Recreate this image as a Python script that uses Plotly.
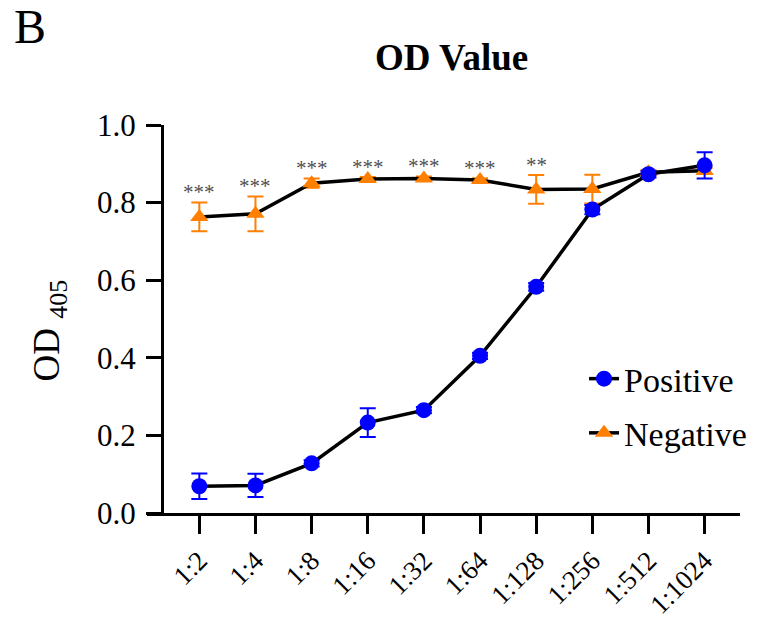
import plotly.graph_objects as go

dilutions = ["1:2", "1:4", "1:8", "1:16", "1:32", "1:64", "1:128", "1:256", "1:512", "1:1024"]
positive_mean = [0.069, 0.071, 0.128, 0.233, 0.265, 0.405, 0.583, 0.782, 0.873, 0.896]
positive_err = [0.033, 0.030, 0.008, 0.037, 0.008, 0.008, 0.010, 0.012, 0.008, 0.034]
negative_mean = [0.763, 0.771, 0.850, 0.861, 0.862, 0.858, 0.834, 0.835, 0.878, 0.882]
negative_err = [0.037, 0.045, 0.012, 0.005, 0.005, 0.005, 0.037, 0.037, 0.006, 0.008]
significance = ["***", "***", "***", "***", "***", "***", "**", "", "", ""]

SERIF = "Liberation Serif"
BLUE = "#0000FF"
ORANGE = "#FF7F00"

fig = go.Figure()

fig.add_trace(go.Scatter(
    x=dilutions, y=negative_mean, name="Negative", mode="lines+markers",
    legendgroup="neg", legendrank=2,
    line=dict(color="black", width=3.5),
    marker=dict(symbol="triangle-up", size=16, color=ORANGE),
    error_y=dict(type="data", array=negative_err, color=ORANGE, thickness=2, width=8),
    cliponaxis=False,
))
fig.add_trace(go.Scatter(
    x=dilutions, y=positive_mean, name="Positive", mode="lines+markers",
    legendgroup="pos", legendrank=1,
    line=dict(color="black", width=3.5),
    marker=dict(symbol="circle", size=16, color=BLUE),
    error_y=dict(type="data", array=positive_err, color=BLUE, thickness=2, width=8),
    cliponaxis=False,
))

annotations = []
for cat, m, e, s in zip(dilutions, negative_mean, negative_err, significance):
    if s:
        annotations.append(dict(
            x=cat, y=m + e + 0.027, xref="x", yref="y", text=s, showarrow=False,
            yanchor="middle", xanchor="center",
            font=dict(family=SERIF, size=21, color="#505050"),
        ))

annotations += [
    dict(text="<b>OD Value</b>", x=0.514, y=1.175, xref="paper", yref="paper",
         showarrow=False, xanchor="center", yanchor="middle",
         font=dict(family=SERIF, size=37, color="black")),
    dict(text="B", x=-0.197, y=1.255, xref="paper", yref="paper",
         showarrow=False, xanchor="center", yanchor="middle",
         font=dict(family=SERIF, size=48, color="black")),
    dict(text="OD <sub>405</sub>", x=-0.164, y=0.47, xref="paper", yref="paper",
         showarrow=False, xanchor="center", yanchor="middle", textangle=-90,
         font=dict(family=SERIF, size=37, color="black")),
]

fig.update_layout(
    width=770, height=620,
    margin=dict(l=147, r=30, t=125, b=107, autoexpand=False),
    paper_bgcolor="white", plot_bgcolor="white",
    font=dict(family=SERIF, color="black"),
    showlegend=True,
    legend=dict(x=0.737, y=0.42, xanchor="left", yanchor="top",
                font=dict(family=SERIF, size=34, color="black"),
                tracegroupgap=7, bgcolor="rgba(0,0,0,0)"),
    annotations=annotations,
    xaxis=dict(
        type="category", range=[-0.932, 9.63], showgrid=False, zeroline=False,
        showline=True, linecolor="black", linewidth=3, automargin=False,
        ticks="outside", ticklen=18, tickwidth=3, tickcolor="black",
        tickangle=-45, tickfont=dict(family=SERIF, size=27, color="black"),
    ),
    yaxis=dict(
        range=[0, 1], anchor="free", position=0.0253, showgrid=False, zeroline=False,
        showline=True, linecolor="black", linewidth=3, automargin=False,
        ticks="outside", ticklen=15, tickwidth=3, tickcolor="black",
        tickvals=[0, 0.2, 0.4, 0.6, 0.8, 1.0], tickformat=".1f",
        tickfont=dict(family=SERIF, size=31, color="black"),
        ticklabelstandoff=4,
    ),
)

fig.write_html("out.html")
